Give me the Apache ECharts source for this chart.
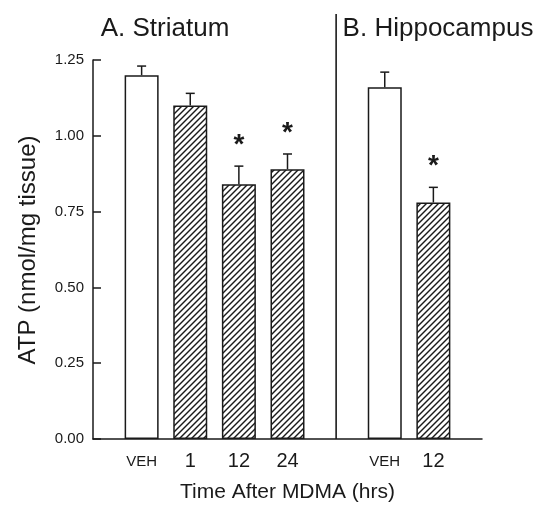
<!DOCTYPE html>
<html>
<head>
<meta charset="utf-8">
<script src="https://cdn.jsdelivr.net/npm/echarts@6/dist/echarts.min.js"></script>
<style>html,body{margin:0;padding:0;background:#fff}#c{width:538px;height:508px}</style>
</head>
<body>
<div id="c"></div>
<script>
// ---- data ----
const categories = ['VEH', '1', '12', '24', 'VEH', '12'];
const regions = ['A', 'A', 'A', 'A', 'B', 'B'];
const atp = [1.20, 1.10, 0.84, 0.89, 1.16, 0.78];
const sem = [0.03, 0.04, 0.06, 0.05, 0.05, 0.05];
const significant = [false, false, true, true, false, true];
const treated = [false, true, true, true, false, true];
const yTicks = [0, 0.25, 0.50, 0.75, 1.00, 1.25];
const panelTitles = ['A. Striatum', 'B. Hippocampus'];
const xTitle = 'Time After MDMA (hrs)';
const yTitle = 'ATP (nmol/mg tissue)';

// slots on x axis: padding, striatum bars, gap (divider), hippocampus bars, padding
const slots = ['pad0'];
const slotLabel = {pad0: '', gap: '', pad1: ''};
const slotIndexOfBar = [];
categories.forEach((c, i) => {
  if (i === 4) slots.push('gap');
  const key = regions[i] + i;
  slotIndexOfBar.push(slots.length);
  slots.push(key);
  slotLabel[key] = c;
});
slots.push('pad1');
const dividerSlot = slots.indexOf('gap');

// hatch pattern
const P = 6;
const pc = document.createElement('canvas');
pc.width = P; pc.height = P;
const g = pc.getContext('2d');
g.fillStyle = '#fff'; g.fillRect(0, 0, P, P);
g.strokeStyle = '#1a1a1a'; g.lineWidth = 1.4;
[-P, 0, P].forEach(ox => {
  g.beginPath(); g.moveTo(ox - 1, P + 1); g.lineTo(ox + P + 1, -1); g.stroke();
});
const hatch = {image: pc, repeat: 'repeat'};

const barData = slots.map(() => '-');
const errData = [];
categories.forEach((c, i) => {
  const s = slotIndexOfBar[i];
  barData[s] = {
    value: atp[i],
    itemStyle: {color: treated[i] ? hatch : '#fff'}
  };
  errData.push([s, atp[i], sem[i], significant[i] ? 1 : 0]);
});

const ink = '#1a1a1a';
const FF = 'Liberation Sans, Arial, Helvetica, sans-serif';
const chart = echarts.init(document.getElementById('c'), null, {renderer: 'canvas'});
chart.setOption({
  animation: false,
  backgroundColor: '#fff',
  textStyle: {fontFamily: FF, color: ink},
  grid: {left: 93, right: 56, top: 60, bottom: 63},
  xAxis: {
    type: 'category',
    data: slots,
    boundaryGap: false,
    axisLine: {lineStyle: {color: ink, width: 1.5}},
    axisTick: {show: false},
    splitLine: {show: false},
    axisLabel: {
      interval: 0,
      margin: 12,
      color: ink,
      fontSize: 20,
      formatter: v => slotLabel[v] === 'VEH' ? '{s|VEH}' : slotLabel[v],
      rich: {s: {fontSize: 15, color: ink, fontFamily: FF, padding: [3, 0, 0, 0]}}
    },
    name: xTitle,
    nameLocation: 'middle',
    nameGap: 43,
    nameTextStyle: {fontSize: 21, color: ink}
  },
  yAxis: {
    type: 'value',
    min: yTicks[0],
    max: yTicks[yTicks.length - 1],
    interval: 0.25,
    axisLine: {show: true, lineStyle: {color: ink, width: 1.5}},
    axisTick: {show: true, inside: true, length: 8, lineStyle: {color: ink, width: 1.5}},
    splitLine: {show: false},
    axisLabel: {margin: 9, fontSize: 15, color: ink, formatter: v => v.toFixed(2)}
  },
  series: [
    {
      type: 'bar',
      data: barData,
      barWidth: 34,
      itemStyle: {borderColor: ink, borderWidth: 1.5},
      z: 2
    },
    {
      type: 'custom',
      data: errData,
      z: 3,
      renderItem: (params, api) => {
        const x = api.value(0), v = api.value(1), e = api.value(2), star = api.value(3);
        const p0 = api.coord([x, v]);
        const p1 = api.coord([x, v + e]);
        const children = [
          {type: 'line', shape: {x1: p0[0], y1: p0[1], x2: p1[0], y2: p1[1]}, style: {stroke: ink, lineWidth: 1.5}},
          {type: 'line', shape: {x1: p1[0] - 4.5, y1: p1[1], x2: p1[0] + 4.5, y2: p1[1]}, style: {stroke: ink, lineWidth: 1.5}}
        ];
        if (star) {
          children.push({type: 'text', style: {text: '*', x: p1[0], y: p1[1] - 21, align: 'center', verticalAlign: 'middle',
            fontSize: 28, fontWeight: 'bold', fontFamily: FF, fill: ink}});
        }
        return {type: 'group', children};
      }
    }
  ]
});

// divider and titles
const dx = chart.convertToPixel({xAxisIndex: 0}, dividerSlot);
const yBottom = chart.convertToPixel({yAxisIndex: 0}, 0);
chart.setOption({
  graphic: [
    {type: 'line', shape: {x1: dx, y1: 14, x2: dx, y2: yBottom}, style: {stroke: ink, lineWidth: 1.6}},
    {type: 'text', x: 165, y: 29, style: {text: panelTitles[0], align: 'center', verticalAlign: 'middle', fontSize: 26, fontFamily: FF, fill: ink}},
    {type: 'text', x: 438, y: 29, style: {text: panelTitles[1], align: 'center', verticalAlign: 'middle', fontSize: 26, fontFamily: FF, fill: ink}},
    {type: 'text', x: 28, y: 250, rotation: Math.PI / 2, style: {text: yTitle, align: 'center', verticalAlign: 'middle', fontSize: 24, fontFamily: FF, fill: ink}}
  ]
});
</script>
</body>
</html>
